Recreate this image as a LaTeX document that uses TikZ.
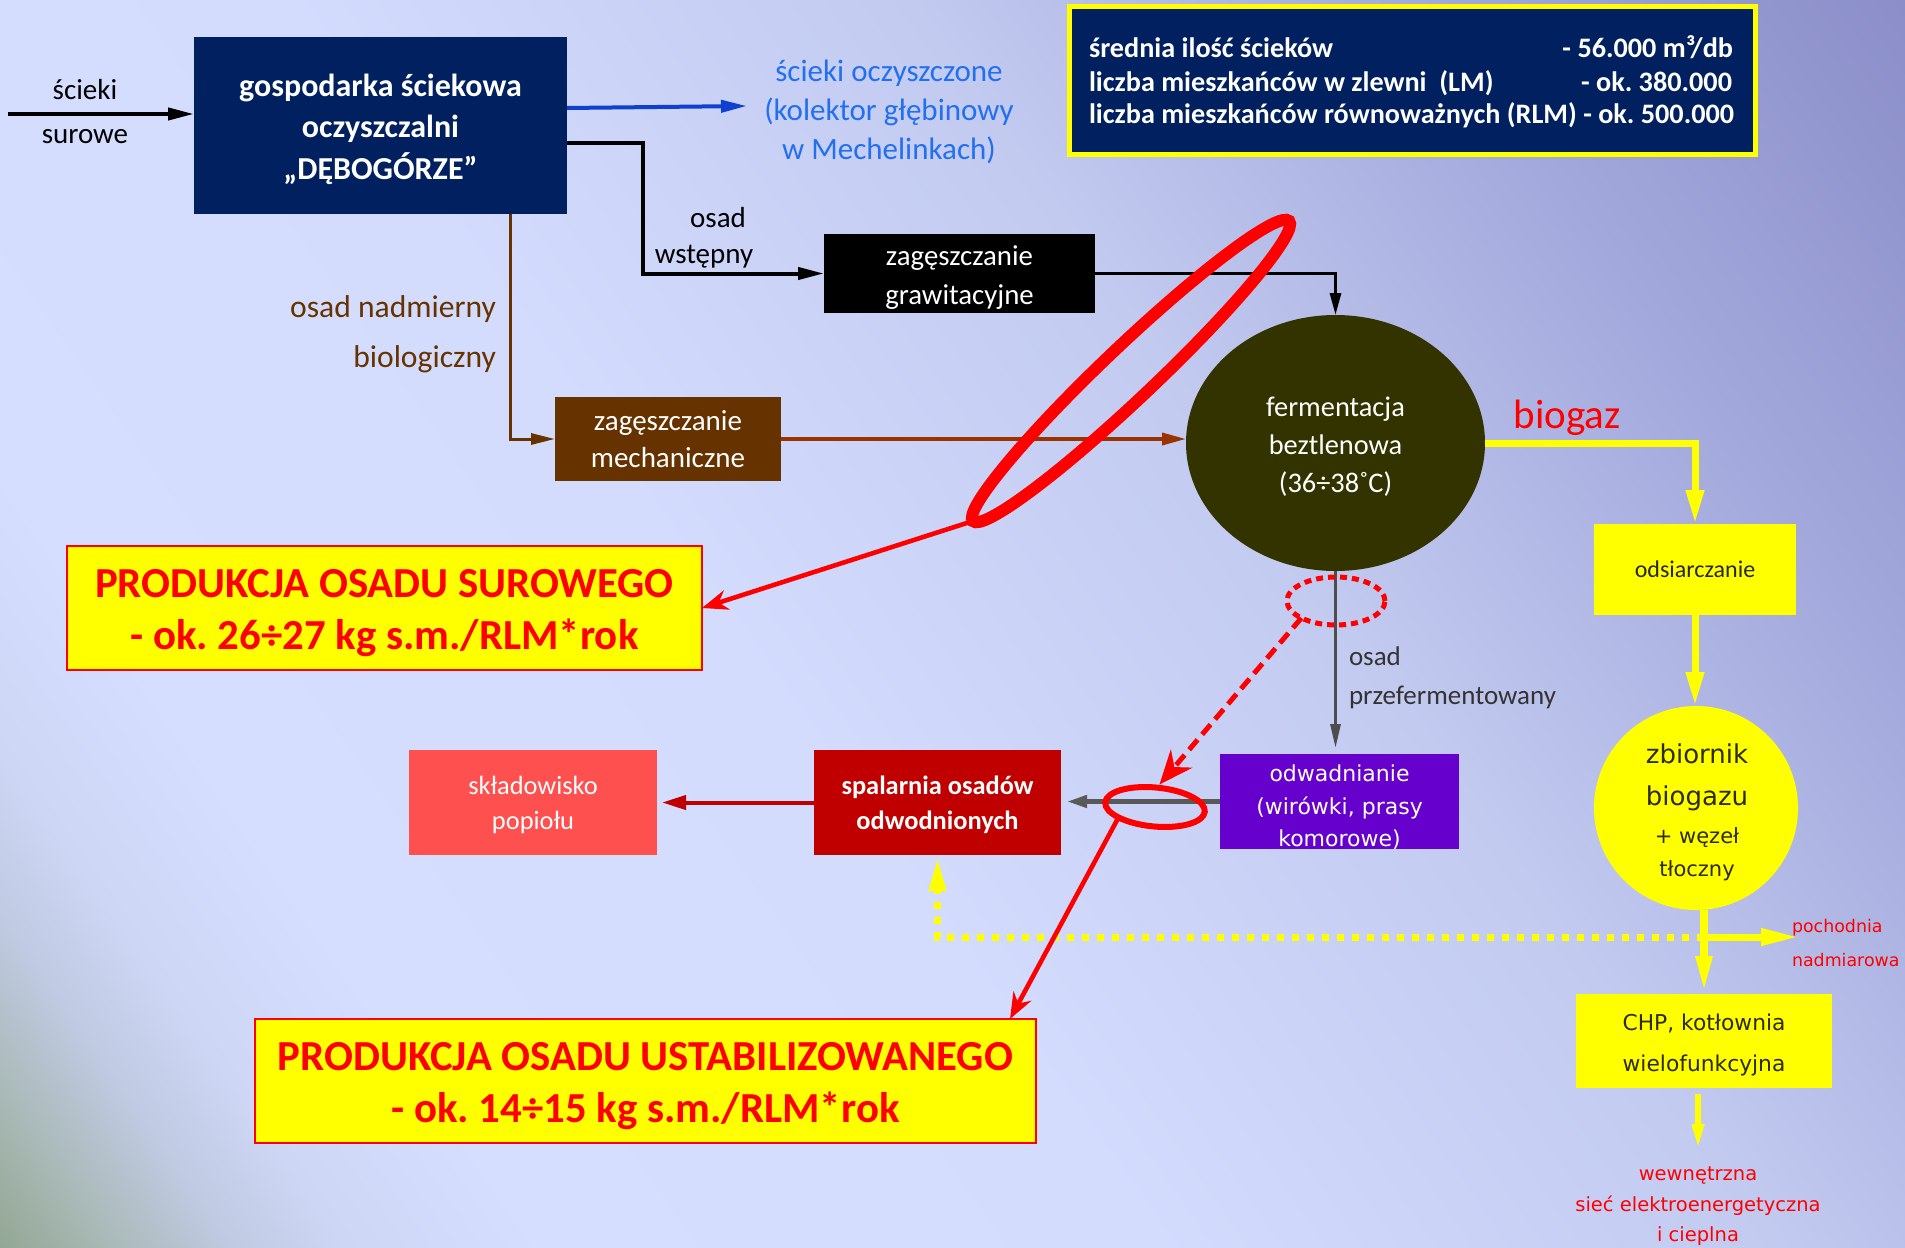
\documentclass[tikz,border=0pt]{standalone}
\usepackage{fontspec}
\setmainfont{Carlito}
\newfontfamily\vfont{DejaVu Sans}
\usetikzlibrary{arrows.meta,shapes.geometric,calc}
\newcommand\fsz[2]{\fontsize{#1}{#2}\selectfont}
\frenchspacing
\definecolor{navy}{HTML}{002060}
\definecolor{blue1}{HTML}{2270F0}
\definecolor{blue2}{HTML}{1040D0}
\definecolor{brownt}{HTML}{663300}
\definecolor{brown2}{HTML}{993300}
\definecolor{mechc}{HTML}{663300}
\definecolor{fermc}{HTML}{333300}
\definecolor{yel}{HTML}{FFFF00}
\definecolor{darkt}{HTML}{262626}
\definecolor{olivet}{HTML}{2B2B08}
\definecolor{purp}{HTML}{6600CC}
\definecolor{spalc}{HTML}{C00000}
\definecolor{skladc}{HTML}{FF5050}
\definecolor{gray1}{HTML}{4D4D4D}
\definecolor{gray2}{HTML}{595959}
\definecolor{gray3}{HTML}{333333}
\definecolor{bg0}{HTML}{8FA48F}
\definecolor{bg1}{HTML}{A9B9B6}
\definecolor{bgx}{HTML}{C0CAE2}
\definecolor{bgy}{HTML}{CDD6F4}
\definecolor{bg2}{HTML}{D5DEFF}
\definecolor{bg3}{HTML}{D3DCFD}
\definecolor{bg4}{HTML}{C2CAF0}
\definecolor{bg5}{HTML}{A3A9DC}
\definecolor{bg6}{HTML}{8A8DC8}
\pgfdeclarehorizontalshading{bgshade}{100bp}{color(0bp)=(bg0); color(14.7bp)=(bg0); color(17.85bp)=(bg1); color(21bp)=(bgx); color(23.85bp)=(bgy); color(28.8bp)=(bg2); color(44.3bp)=(bg3); color(59.9bp)=(bg4); color(72.6bp)=(bg5); color(85.3bp)=(bg6); color(100bp)=(bg6)}
\begin{document}
\begin{tikzpicture}[x=0.5pt,y=-0.5pt,
  every node/.style={inner sep=0pt, outer sep=0pt},
  bodytxt/.style={font=\fsz{14.5}{20}},
  infol/.style={anchor=base west, text=white, font=\fsz{14.1}{16}\bfseries},
  infor/.style={anchor=base east, text=white, font=\fsz{14.1}{16}\bfseries},
  vtxt/.style={anchor=base, font=\vfont\fsz{#1}{#1}},
  blkar/.style={draw=black, line width=2pt, -{Triangle[length=13pt,width=6pt]}},
  blkthin/.style={draw=black, line width=1.5pt, -{Triangle[length=11pt,width=5.5pt]}},
  bluear/.style={draw=blue2, line width=2pt, -{Triangle[length=13pt,width=6pt]}},
  brar/.style={draw=brownt, line width=1.5pt, -{Triangle[length=12pt,width=5.5pt]}},
  brar2/.style={draw=brown2, line width=1.75pt, -{Triangle[length=12pt,width=6pt]}},
  yar/.style={draw=yel, line width=3.5pt, -{Triangle[length=17pt,width=8.5pt]}},
  ydot/.style={draw=yel, line width=3.5pt, dash pattern=on 3.5pt off 4pt, -{Triangle[length=17pt,width=8pt]}},
  grar/.style={draw=gray1, line width=1.5pt, -{Triangle[length=12pt,width=5pt]}},
  grar2/.style={draw=gray2, line width=2.2pt, -{Triangle[length=10pt,width=6pt]}},
  drar/.style={draw=spalc, line width=2pt, -{Triangle[length=12pt,width=7pt]}},
  redar/.style={draw=red, line width=2.3pt, -{Stealth[length=13pt,width=10pt]}},
  reddash/.style={draw=red, line width=2.5pt, dash pattern=on 6.5pt off 3.5pt, -{Stealth[length=17pt,width=14pt]}},
  prodbox/.style={fill=yel, draw=red, line width=1pt},
  prodtxt/.style={text=red, align=center, font=\fsz{21.4}{26}\bfseries}
]
\useasboundingbox (0,0) rectangle (1905,1247);
\fill[shading=bgshade, shading angle=35] (0,0) rectangle (1905,1247);

% main plant box
\node[fill=navy, minimum width=186.5pt, minimum height=88.5pt] (main) at (380.5,125.5) {};
\node[align=center, text=white, font=\fsz{16}{20.75}\bfseries] (maint) at ([yshift=-1.8pt]main.center) {gospodarka ściekowa\\oczyszczalni\\„DĘBOGÓRZE”};

% raw sewage in
\node[bodytxt] (lsc1) at (85,90) {ścieki};
\node[bodytxt] (lsc2) at (85,137) {surowe};
\coordinate (src) at (8,114);
\draw[blkar] (src) -- (src -| main.west);

% treated sewage out
\node[text=blue1, align=center, font=\fsz{15.5}{19.5}] (clean) at (889,112) {ścieki oczyszczone\\(kolektor głębinowy\\w Mechelinkach)};
\coordinate (cleanin) at (747,106);
\coordinate (mainout) at (567,108);
\draw[bluear] (mainout) -- (cleanin);

% info box
\node[fill=navy, draw=yel, line width=2.5pt, minimum width=343pt, minimum height=74pt] (info) at (1412.5,80.5) {};
\node[infol] (i1) at (1089,58) {średnia ilość ścieków};
\node[infor] (v1) at (1733,58) {- 56.000 m³/db};
\node[infol] (i2) at (1089,91) {liczba mieszkańców w zlewni\ \ (LM)};
\node[infor] (v2) at (1732,91) {- ok. 380.000};
\node[infol] (i3) at (1089,124) {liczba mieszkańców równoważnych (RLM) - ok. 500.000};

% primary sludge
\node[fill=black, minimum width=135.5pt, minimum height=39.5pt] (grav) at (959.5,273.5) {};
\node[text=white, align=center, font=\fsz{14.4}{19.5}] (gravt) at ([yshift=-1.8pt]grav.center) {zagęszczanie\\grawitacyjne};
\node[bodytxt] (lw1) at (718,218) {osad};
\node[bodytxt] (lw2) at (704,257) {wstępny};
\coordinate (bend1) at (643,143);
\draw[blkar] (main.east |- bend1) -- (bend1) |- (grav.west);

% excess sludge
\node[text=brownt, font=\fsz{15.8}{20}, anchor=east] (lnad1) at (496,309) {osad nadmierny};
\node[text=brownt, font=\fsz{15.8}{20}, anchor=east] (lnad2) at (496,359) {biologiczny};
\node[fill=mechc, minimum width=113pt, minimum height=42pt, text=white, align=center, font=\fsz{14.5}{18.5}] (mech) at (668,439) {zagęszczanie\\mechaniczne};
\coordinate (bend2) at (510,439);
\draw[brar] (main.south -| bend2) -- (bend2) -- (mech.west);

% digester
\node[ellipse, fill=fermc, minimum width=149.5pt, minimum height=128pt] (ferm) at (1335.5,443) {};
\node[text=white, align=center, font=\fsz{14.2}{19}] (fermt) at ([yshift=-1.8pt]ferm.center) {fermentacja\\beztlenowa\\(36÷38˚C)};
\draw[brar2] (mech.east) -- (mech.east -| ferm.west);
\draw[blkthin] (grav.east) -| (ferm.north);

% biogas line
\node[text=red, font=\fsz{20.5}{24}] (lbio) at (1567,418) {biogaz};
\node[fill=yel, minimum width=101pt, minimum height=45.5pt, text=darkt, font=\fsz{12}{15}] (odsi) at (1695,569.5) {odsiarczanie};
\draw[yar] (ferm.east) -| (odsi.north);
\node[circle, fill=yel, minimum size=102pt] (zbior) at (1696,808) {};
\node[vtxt=13, text=olivet] (z1) at (1697,763) {zbiornik};
\node[vtxt=13, text=olivet] (z2) at (1697,805) {biogazu};
\node[vtxt=10.5, text=olivet] (z3) at (1697,843) {+ węzeł};
\node[vtxt=10.5, text=olivet] (z4) at (1697,876) {tłoczny};
\draw[yar] (odsi.south) -- (odsi.south |- zbior.north);

\node[fill=yel, minimum width=128pt, minimum height=47pt] (chp) at (1704,1041) {};
\node[vtxt=10.9, text=olivet] (c1) at (1704,1030) {CHP, kotłownia};
\node[vtxt=10.9, text=olivet] (c2) at (1704,1071) {wielofunkcyjna};
\draw[draw=yel, line width=4pt, -{Triangle[length=19pt,width=7.5pt]}] (zbior.south -| chp.north) -- (chp.north);
\coordinate (yj) at (1704,937);
\coordinate (flare) at (1799,937);
\draw[draw=yel, line width=3.5pt, -{Triangle[length=19pt,width=8pt]}] (yj) -- (flare);
\node[anchor=base west, text=red, font=\vfont\fsz{8.7}{10}] (p1) at (1792,932) {pochodnia};
\node[anchor=base west, text=red, font=\vfont\fsz{8.7}{10}] (p2) at (1792,966) {nadmiarowa};
\coordinate (gridin) at (1698,1150);
\draw[draw=yel, line width=3pt, -{Triangle[length=13pt,width=5.5pt]}, shorten <=3pt] ([xshift=-3pt]chp.south) -- (gridin);
\node[vtxt=9.75, text=red] (g1) at (1698,1180) {wewnętrzna};
\node[vtxt=9.75, text=red] (g2) at (1698,1211) {sieć elektroenergetyczna};
\node[vtxt=9.75, text=red] (g3) at (1698,1241) {i cieplna};

% digested sludge
\node[fill=purp, minimum width=119.5pt, minimum height=47.5pt] (odw) at (1339.5,801.5) {};
\node[text=white, align=center, font=\vfont\fsz{11}{16.25}] (odwt) at ([yshift=-3pt]odw.center) {odwadnianie\\(wirówki, prasy\\komorowe)};
\draw[grar, shorten >=3pt] (ferm.south) -- (ferm.south |- odw.north);
\node[anchor=west, text=gray3, font=\fsz{13.5}{16}] (lp1) at (1349,656) {osad};
\node[anchor=west, text=gray3, font=\fsz{13.5}{16}] (lp2) at (1349,697) {przefermentowany};

\node[fill=spalc, minimum width=123.5pt, minimum height=52.5pt] (spal) at (937.5,802.5) {};
\node[text=white, align=center, font=\fsz{13.2}{17.5}\bfseries] (spalt) at ([yshift=-1.2pt]spal.center) {spalarnia osadów\\odwodnionych};
\node[fill=skladc, minimum width=124pt, minimum height=52.5pt] (sklad) at (533,802.5) {};
\node[text=white, align=center, font=\fsz{13.2}{17.5}] (skladt) at ([yshift=-1.2pt]sklad.center) {składowisko\\popiołu};
\draw[grar2, shorten >=3pt] (odw.west) -- (odw.west -| spal.east);
\draw[drar, shorten >=2.5pt] (spal.west) -- (sklad.east);
\draw[ydot, shorten >=1pt] (yj) -| (spal.south);

% production boxes
\node[prodbox, minimum width=317.5pt, minimum height=62pt] (psur) at (384.5,608) {};
\node[prodtxt] (psurt) at ([yshift=-2.4pt]psur.center) {PRODUKCJA OSADU SUROWEGO\\- ok. 26÷27 kg s.m./RLM*rok};
\node[prodbox, minimum width=390.5pt, minimum height=62pt] (pstab) at (645.5,1081) {};
\node[prodtxt] (pstabt) at ([yshift=-2.4pt]pstab.center) {PRODUKCJA OSADU USTABILIZOWANEGO\\- ok. 14÷15 kg s.m./RLM*rok};

% red highlight rings
\node[ellipse, draw=red, line width=6pt, minimum width=218pt, minimum height=26pt, rotate=43.5] (bigring) at (1131,371) {};
\draw[redar] (bigring.west) -- (psur.east);
\node[ellipse, draw=red, line width=3pt, minimum width=50pt, minimum height=19.5pt, rotate=-5.4] (smring) at (1155,807) {};
\draw[redar] (smring.south west) -- ([xshift=-13pt]pstab.north east);
\node[ellipse, draw=red, line width=2.5pt, dash pattern=on 3.5pt off 2.5pt, minimum width=49pt, minimum height=24pt] (dring) at (1336,601) {};
\draw[reddash, shorten >=2pt] (dring.south west) -- (smring.north);
\end{tikzpicture}
\end{document}
